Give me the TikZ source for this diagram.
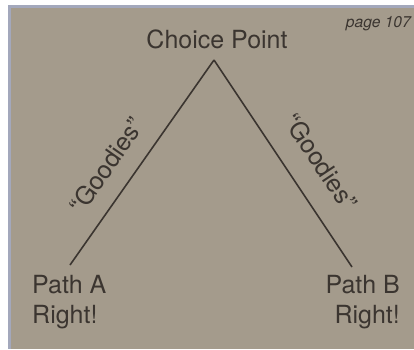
\documentclass[tikz,border=0pt]{standalone}
\usepackage{fontspec}
\setmainfont{TeX Gyre Heros}
\usepackage{xcolor}
\usetikzlibrary{positioning}
\definecolor{cDark}{HTML}{3B3530}
\definecolor{cCard}{HTML}{A49B8C}
\definecolor{cEdge}{HTML}{A3A8BC}
\tikzset{
  big/.style ={text=cDark,inner sep=0pt,font=\fontsize{25}{30}\selectfont},
  gd/.style  ={text=cDark,inner sep=0pt,font=\fontsize{25}{30}\selectfont},
  pg/.style  ={text=cDark,inner sep=0pt,font=\fontsize{15.6}{18}\selectfont\itshape},
  ln/.style  ={draw=cDark,line width=1.6pt},
}

\begin{document}
\begin{tikzpicture}[x=1pt,y=1pt]
% card and scan edges
\fill[white] (0,0) rectangle (414,349);
\fill[cEdge] (8,0) rectangle (414,344);
\fill[cCard] (11,0) rectangle (414,341);
\useasboundingbox (0,0) rectangle (414,349);
\node[pg,anchor=base east] (page) at (411,321) {page 107};
\node[big,anchor=base] (choice) at (217,301) {Choice Point};
\node[big,anchor=north west,align=left] (pathA) at (32,74) {Path A\\Right!};
\node[big,anchor=north east,align=right] (pathB) at (400,74) {Path B\\Right!};
\coordinate (apex) at (214,289);
\coordinate (endA) at (70,84);
\coordinate (endB) at (352,82);
\draw[ln] (endA) -- node[gd,sloped,pos=0.41,above=17pt] (goodA) {``Goodies''} (apex);
\draw[ln] (apex) -- node[gd,sloped,pos=0.58,above=22pt] (goodB) {``Goodies''} (endB);
\end{tikzpicture}
\end{document}
